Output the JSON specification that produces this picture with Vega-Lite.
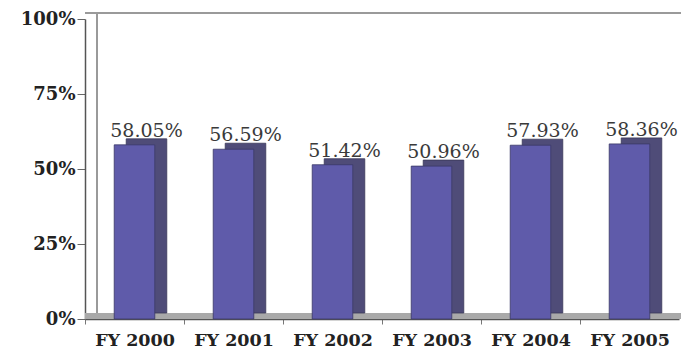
{
  "$schema": "https://vega.github.io/schema/vega-lite/v6.json",
  "width": 594,
  "height": 300,
  "autosize": {"type": "none"},
  "padding": {"left": 85, "top": 19, "right": 2, "bottom": 32},
  "background": "white",
  "config": {"view": {"stroke": null}},
  "data": {"values": [
    {"year": "FY 2000", "pct": 0.5805},
    {"year": "FY 2001", "pct": 0.5659},
    {"year": "FY 2002", "pct": 0.5142},
    {"year": "FY 2003", "pct": 0.5096},
    {"year": "FY 2004", "pct": 0.5793},
    {"year": "FY 2005", "pct": 0.5836}
  ]},
  "encoding": {
    "x": {
      "field": "year", "type": "nominal", "sort": null,
      "scale": {"paddingInner": 0.59, "paddingOuter": 0.295},
      "axis": {
        "title": null, "labelAngle": 0,
        "labelFont": "DejaVu Serif", "labelFontWeight": "bold", "labelFontSize": 17.5,
        "labelColor": "#222222", "labelPadding": 7, "labelOffset": 49.5,
        "domainColor": "#555555", "domainWidth": 1.5,
        "tickColor": "#777777", "tickSize": 5, "tickOffset": -49.5
      }
    }
  },
  "layer": [
    {
      "mark": {"type": "rule", "color": "#9a9a9a", "strokeWidth": 1.5, "xOffset": 12, "yOffset": -6},
      "encoding": {"x": null, "y": {"datum": 1, "type": "quantitative"}}
    },
    {
      "mark": {"type": "rule", "color": "#9a9a9a", "strokeWidth": 1.5, "xOffset": -37.5, "yOffset": -6, "y2Offset": -6},
      "encoding": {"x": {"datum": "FY 2000"}, "y": {"datum": 0, "type": "quantitative"}, "y2": {"datum": 1}}
    },
    {
      "mark": {"type": "rule", "color": "#a9a9a9", "strokeWidth": 6, "xOffset": 6, "yOffset": -3},
      "encoding": {"x": null, "y": {"datum": 0, "type": "quantitative"}}
    },
    {
      "mark": {"type": "bar", "color": "#4f4c78", "xOffset": 12, "yOffset": -6, "y2Offset": -6, "stroke": "#3a3858", "strokeWidth": 0.8},
      "encoding": {"y": {"field": "pct", "type": "quantitative"}}
    },
    {
      "mark": {"type": "bar", "color": "#5f5baa", "stroke": "#3a3866", "strokeWidth": 0.8},
      "encoding": {
        "y": {
          "field": "pct", "type": "quantitative",
          "scale": {"domain": [0, 1]},
          "axis": {
            "title": null, "values": [0, 0.25, 0.5, 0.75, 1], "format": ".0%",
            "grid": false,
            "labelFont": "DejaVu Serif", "labelFontWeight": "bold", "labelFontSize": 18,
            "labelColor": "#222222", "labelPadding": 2,
            "domainColor": "#555555", "domainWidth": 1.5,
            "tickColor": "#666666", "tickSize": 8
          }
        }
      }
    },
    {
      "mark": {"type": "text", "font": "DejaVu Serif", "fontSize": 19, "color": "#3a3a3a", "dx": 12, "dy": -8, "baseline": "alphabetic", "align": "center"},
      "encoding": {
        "y": {"field": "pct", "type": "quantitative"},
        "text": {"field": "pct", "type": "quantitative", "format": ".2%"}
      }
    }
  ]
}
